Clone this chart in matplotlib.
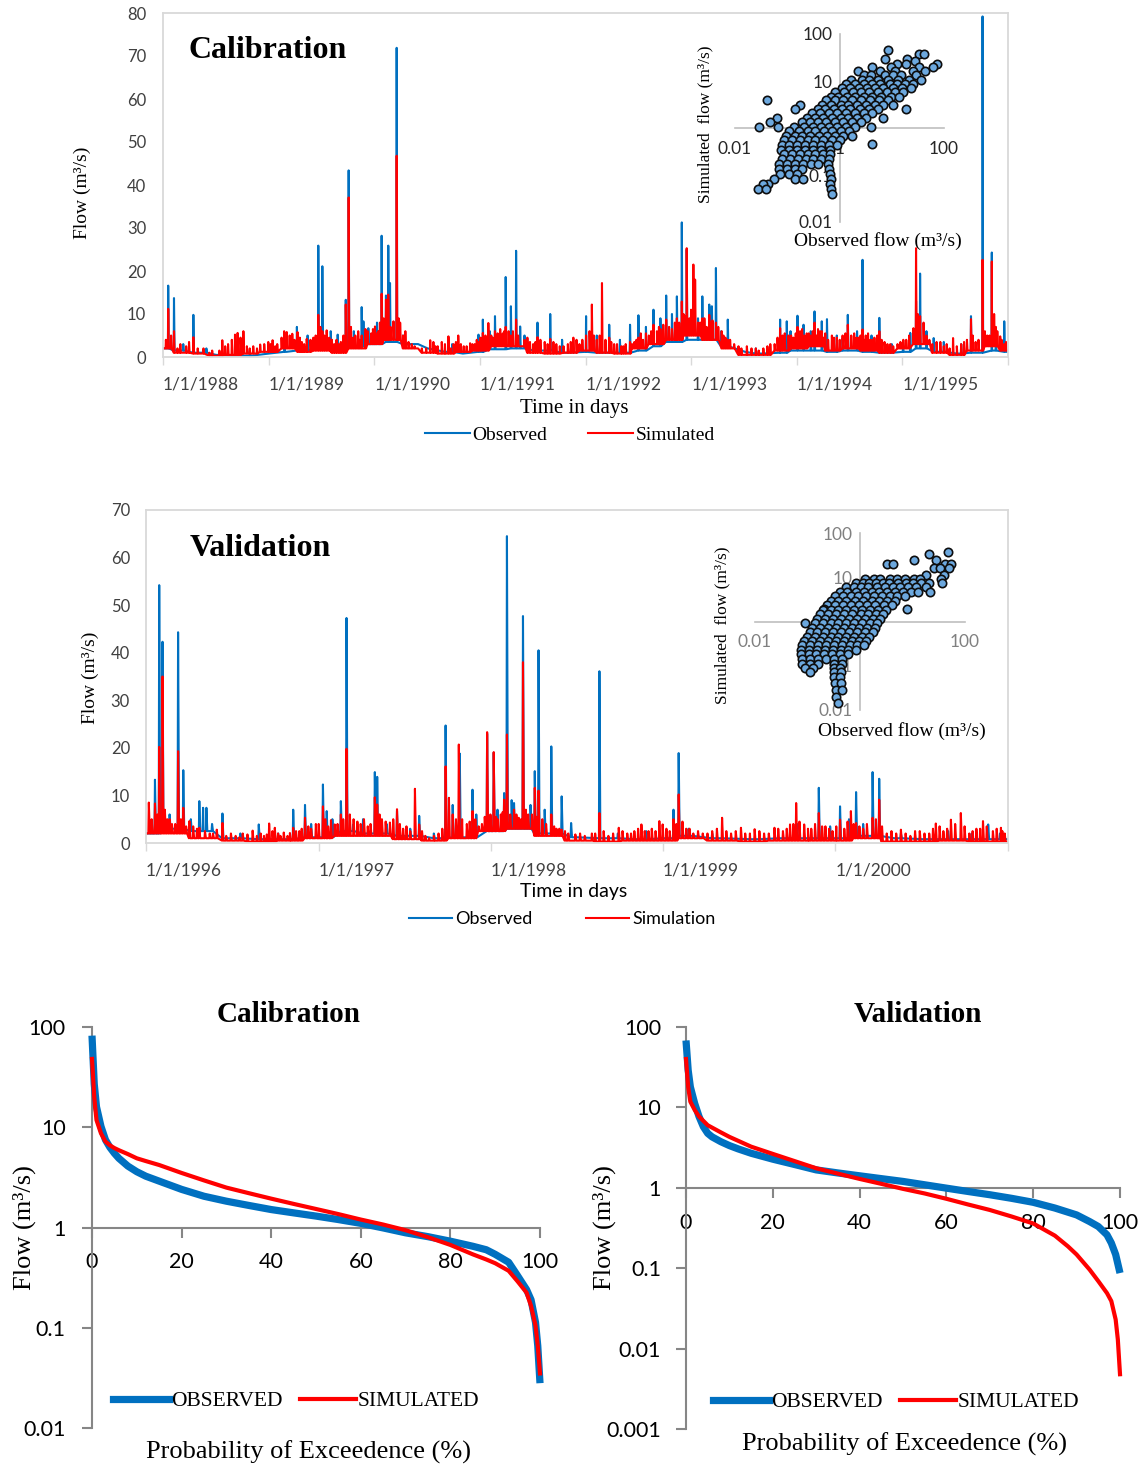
import numpy as np
import matplotlib
matplotlib.use("Agg")
import matplotlib.pyplot as plt
import matplotlib.dates as mdates
from matplotlib.lines import Line2D
from matplotlib.ticker import NullLocator

SANS = "Lato"
SERIF = "Liberation Serif"
BLUE = "#0070C0"
RED = "#FF0000"

# ======================= DATA =======================
# ---- Calibration daily flow (day offset from 1988-01-01) ----
cal_start, cal_end = "1988-01-01", "1996-01-01"
cal_years = [1988, 1989, 1990, 1991, 1992, 1993, 1994, 1995]
cal_yticks = [0, 10, 20, 30, 40, 50, 60, 70, 80]
cal_base_day = [0, 61, 122, 183, 244, 305, 366, 427, 488, 549, 610, 671, 732, 793, 854,
                915, 976, 1037, 1098, 1159, 1220, 1281, 1342, 1403, 1464, 1525, 1586, 1647,
                1708, 1769, 1830, 1891, 1952, 2013, 2074, 2135, 2196, 2257, 2318, 2379, 2440,
                2501, 2562, 2623, 2684, 2745, 2806, 2867, 2922]
cal_obs_base = [2.0, 1.5, 1.0, 0.5, 0.3, 0.3, 0.8, 1.2, 1.5, 2.5, 2.5, 2.5, 3.0, 3.5, 3.0,
                2.0, 1.2, 0.8, 1.2, 1.8, 2.0, 1.5, 1.5, 1.0, 1.2, 1.0, 1.0, 1.5, 2.5, 3.5,
                4.0, 4.0, 2.5, 1.2, 0.8, 1.0, 1.5, 1.5, 1.2, 1.5, 1.2, 1.0, 1.2, 2.0, 1.2,
                0.8, 1.0, 1.5, 1.2]
cal_sim_base = [2.0, 1.0, 0.8, 0.3, 0.5, 0.8, 1.2, 2.0, 1.2, 1.5, 1.0, 2.0, 3.0, 4.0, 2.0,
                1.0, 0.8, 1.2, 1.5, 2.5, 2.5, 1.0, 0.8, 1.0, 1.5, 1.0, 0.8, 2.0, 3.0, 4.0,
                5.0, 4.0, 2.0, 0.5, 0.5, 1.5, 2.0, 2.5, 1.5, 2.0, 1.5, 1.0, 2.0, 3.0, 1.0,
                0.5, 1.5, 2.5, 1.5]
cal_obs_peaks = [(18, 16.6), (38, 13.7), (105, 9.8), (463, 7.0), (537, 25.9), (551, 21.1),
                 (604, 5.2), (632, 13.3), (642, 43.4), (687, 11.6), (693, 8.3), (710, 6.7),
                 (756, 28.2), (771, 14.3), (779, 25.9), (785, 17.2), (808, 71.9), (1091, 5.2),
                 (1106, 8.7), (1148, 9.5), (1185, 18.6), (1203, 11.8), (1221, 24.7), (1235, 7.1),
                 (1295, 8.0), (1339, 10.0), (1463, 9.5), (1543, 7.5), (1615, 7.5), (1644, 9.7),
                 (1696, 11.0), (1740, 14.3), (1777, 14.1), (1794, 31.3), (1811, 25.0),
                 (1865, 14.1), (1889, 12.2), (1898, 11.8), (1912, 20.7), (1953, 8.7),
                 (2134, 8.7), (2157, 8.3), (2194, 9.6), (2215, 7.5), (2253, 10.6), (2278, 8.3),
                 (2296, 8.8), (2350, 4.4), (2368, 9.8), (2419, 22.6), (2477, 9.1), (2559, 3.3),
                 (2584, 5.6), (2604, 13.0), (2618, 19.4), (2665, 4.4), (2794, 9.5),
                 (2834, 79.2), (2866, 24.3), (2909, 8.3)]
cal_obs_minor = [(70, 3.0), (150, 2.0), (300, 1.5), (420, 4.0), (500, 5.0), (580, 6.0),
                 (660, 6.0), (740, 8.0), (830, 5.0), (880, 3.0), (1000, 3.0), (1130, 6.0),
                 (1250, 5.0), (1380, 4.0), (1500, 5.0), (1580, 4.0), (1670, 7.0), (1720, 9.0),
                 (1760, 10.0), (1850, 9.0), (1930, 6.0), (2050, 2.0), (2170, 6.0), (2240, 6.0),
                 (2330, 5.0), (2400, 6.0), (2450, 5.0), (2520, 3.0), (2640, 6.0), (2700, 3.5),
                 (2760, 3.0), (2880, 6.0)]
cal_sim_peaks = [(18, 11.2), (38, 6.0), (60, 3.0), (80, 2.5), (105, 4.6), (140, 2.0), (170, 1.5),
                 (205, 3.9), (225, 3.0), (249, 5.2), (258, 5.6), (278, 6.0), (290, 2.5),
                 (312, 2.5), (336, 2.9), (364, 3.5), (379, 3.9), (395, 3.0), (419, 6.0),
                 (428, 5.8), (447, 5.4), (465, 5.8), (480, 3.5), (497, 4.2), (520, 4.5),
                 (537, 9.8), (551, 6.0), (566, 6.2), (584, 4.0), (600, 4.0), (615, 3.5),
                 (632, 12.2), (642, 37.1), (658, 4.5), (687, 5.0), (700, 6.5), (720, 5.5),
                 (733, 7.1), (745, 6.0), (756, 14.7), (771, 13.3), (779, 14.5), (797, 8.3),
                 (808, 46.8), (820, 8.0), (830, 5.0), (849, 3.5), (870, 2.5), (895, 2.0),
                 (924, 3.9), (935, 3.5), (950, 2.5), (964, 3.5), (987, 4.8), (1005, 3.0),
                 (1021, 5.0), (1040, 2.5), (1062, 3.2), (1078, 3.0), (1091, 3.5), (1106, 5.6),
                 (1125, 7.9), (1135, 5.0), (1148, 6.0), (1166, 6.5), (1175, 5.5), (1185, 7.0),
                 (1195, 6.0), (1203, 5.0), (1221, 8.7), (1250, 4.0), (1269, 3.5), (1280, 3.0),
                 (1295, 4.6), (1320, 3.5), (1339, 4.2), (1360, 3.0), (1385, 2.5), (1400, 3.0),
                 (1419, 4.5), (1440, 3.0), (1463, 5.0), (1483, 12.2), (1500, 4.0), (1518, 17.2),
                 (1543, 4.5), (1560, 3.0), (1585, 2.5), (1600, 3.0), (1615, 3.5), (1630, 3.5),
                 (1644, 4.5), (1660, 4.0), (1680, 5.0), (1696, 7.5), (1708, 6.0), (1720, 6.5),
                 (1740, 8.7), (1750, 7.0), (1760, 6.5), (1777, 9.0), (1785, 8.0), (1794, 12.9),
                 (1800, 10.0), (1811, 25.3), (1820, 9.0), (1834, 21.5), (1840, 18.0),
                 (1850, 8.0), (1865, 9.0), (1880, 7.0), (1889, 9.8), (1900, 8.5), (1912, 8.0),
                 (1932, 6.0), (1945, 4.5), (1961, 4.0), (1990, 2.5), (2019, 2.5), (2050, 2.0),
                 (2076, 2.0), (2100, 3.0), (2134, 6.7), (2150, 5.5), (2163, 5.0), (2180, 4.5),
                 (2194, 7.0), (2210, 6.5), (2226, 5.5), (2240, 5.0), (2253, 8.0), (2265, 6.5),
                 (2278, 6.0), (2290, 5.5), (2313, 5.0), (2330, 4.5), (2350, 5.0), (2368, 7.5),
                 (2390, 5.5), (2405, 4.5), (2419, 6.4), (2430, 5.0), (2446, 4.0), (2460, 4.5),
                 (2477, 6.0), (2495, 3.5), (2515, 3.0), (2540, 3.0), (2570, 4.0), (2595, 6.7),
                 (2604, 25.3), (2618, 9.5), (2630, 8.0), (2650, 4.0), (2688, 3.5), (2710, 3.0),
                 (2732, 4.4), (2760, 3.0), (2780, 4.0), (2794, 8.8), (2810, 3.5), (2834, 22.6),
                 (2850, 5.0), (2866, 22.2), (2874, 10.0), (2885, 6.0), (2895, 4.8), (2909, 3.0)]
cal_sim_minor = [(10, 4.0), (28, 5.0), (50, 2.0), (90, 3.5), (120, 2.0), (160, 1.0), (195, 1.5),
                 (215, 2.5), (238, 4.0), (268, 4.5), (300, 2.0), (325, 2.0), (350, 3.0),
                 (372, 3.0), (388, 2.5), (410, 4.5), (438, 5.0), (455, 4.0), (473, 4.5),
                 (488, 3.0), (510, 4.0), (528, 5.0), (544, 7.0), (558, 5.0), (575, 4.5),
                 (592, 3.0), (608, 3.0), (624, 5.0), (650, 7.0), (665, 5.0), (675, 6.0),
                 (680, 4.0), (708, 6.0), (726, 6.5), (740, 5.5), (750, 8.0), (763, 9.0),
                 (787, 7.0), (815, 9.0), (838, 6.0), (860, 3.0), (880, 2.0), (910, 2.0),
                 (942, 2.5), (975, 3.0), (995, 2.0), (1013, 3.5), (1030, 3.0), (1050, 2.5),
                 (1070, 3.0), (1085, 4.0), (1098, 4.5), (1115, 5.0), (1140, 4.5), (1157, 5.5),
                 (1180, 6.0), (1210, 6.0), (1228, 5.0), (1260, 4.5), (1288, 3.5), (1305, 4.0),
                 (1330, 3.0), (1350, 3.5), (1372, 2.5), (1410, 3.5), (1430, 4.0), (1450, 4.0),
                 (1475, 6.0), (1490, 5.0), (1510, 5.0), (1530, 4.0), (1550, 3.5), (1570, 3.0),
                 (1592, 2.5), (1622, 3.0), (1637, 4.0), (1652, 5.5), (1670, 5.5), (1688, 6.0),
                 (1715, 7.0), (1730, 7.5), (1770, 8.0), (1805, 9.5), (1826, 11.0), (1858, 8.0),
                 (1872, 9.0), (1895, 8.0), (1920, 7.0), (1938, 5.0), (1953, 4.0), (1975, 3.0),
                 (2000, 2.0), (2035, 2.0), (2060, 1.5), (2090, 2.5), (2115, 3.0), (2125, 4.5),
                 (2142, 5.0), (2172, 5.0), (2188, 5.5), (2203, 6.0), (2218, 5.0), (2233, 5.5),
                 (2247, 6.0), (2260, 5.0), (2272, 6.0), (2285, 4.5), (2300, 4.0), (2320, 4.5),
                 (2340, 4.0), (2360, 5.5), (2380, 5.0), (2398, 4.5), (2412, 5.0), (2425, 4.0),
                 (2438, 5.5), (2453, 4.0), (2470, 5.0), (2485, 4.0), (2505, 3.0), (2525, 2.5),
                 (2550, 3.5), (2560, 4.0), (2580, 5.0), (2610, 10.0), (2640, 5.0), (2660, 3.0),
                 (2675, 3.5), (2700, 2.5), (2720, 2.0), (2745, 2.5), (2770, 3.5), (2800, 5.0),
                 (2820, 4.0), (2842, 6.0), (2858, 5.0), (2880, 7.0), (2900, 4.0), (2915, 3.5)]

# ---- Validation daily flow (day offset from 1996-01-01) ----
val_start, val_end = "1996-01-01", "2001-01-01"
val_years = [1996, 1997, 1998, 1999, 2000]
val_yticks = [0, 10, 20, 30, 40, 50, 60, 70]
val_base_day = [0, 61, 122, 183, 244, 305, 366, 427, 488, 549, 610, 671, 732, 793, 854, 915,
                976, 1037, 1098, 1159, 1220, 1281, 1342, 1403, 1464, 1525, 1586, 1647, 1708,
                1769, 1827]
val_obs_base = [2.0, 3.0, 2.5, 1.0, 0.8, 0.8, 1.2, 2.5, 2.0, 1.5, 1.0, 1.2, 2.5, 3.0, 2.0,
                1.2, 1.0, 0.8, 1.0, 1.5, 1.0, 0.8, 1.0, 1.0, 1.0, 1.5, 1.0, 0.8, 0.8, 0.8, 0.8]
val_sim_base = [2.0, 2.0, 1.0, 0.5, 0.3, 0.5, 1.0, 1.5, 1.5, 0.8, 0.5, 1.0, 2.5, 3.0, 1.5,
                0.5, 0.3, 0.5, 0.5, 1.0, 0.5, 0.3, 0.5, 0.5, 0.5, 1.0, 0.3, 0.3, 0.5, 0.3, 0.3]
val_obs_peaks = [(19, 13.3), (28, 54.2), (35, 42.3), (68, 44.3), (79, 15.3), (113, 8.8),
                 (121, 7.4), (128, 7.4), (162, 6.2), (239, 3.9), (312, 7.0), (337, 8.0),
                 (375, 12.3), (383, 6.7), (413, 8.8), (425, 47.3), (439, 3.9), (485, 14.9),
                 (490, 13.9), (532, 6.7), (579, 5.7), (635, 24.7), (665, 18.8), (692, 11.2),
                 (723, 23.0), (737, 19.0), (759, 10.5), (765, 64.5), (780, 8.4), (799, 47.7),
                 (824, 15.1), (832, 40.5), (859, 20.3), (881, 9.8), (901, 4.2), (961, 36.1),
                 (1118, 7.0), (1129, 18.9), (1426, 11.6), (1471, 7.7), (1505, 10.7),
                 (1540, 14.9), (1554, 13.5), (1785, 3.9)]
val_obs_minor = [(50, 6.0), (95, 5.0), (140, 4.0), (200, 2.0), (280, 2.0), (350, 4.0),
                 (395, 5.0), (460, 5.0), (510, 4.0), (560, 3.0), (610, 2.0), (650, 8.0),
                 (700, 6.0), (745, 7.0), (775, 9.0), (815, 8.0), (845, 7.0), (1000, 2.0),
                 (1060, 2.5), (1150, 3.0), (1200, 2.0), (1300, 2.0), (1380, 4.0), (1450, 3.5),
                 (1490, 5.0), (1520, 4.0), (1600, 2.0), (1700, 2.5), (1750, 2.0), (1810, 2.0)]
val_sim_peaks = [(6, 8.5), (19, 8.3), (28, 20.2), (35, 35.0), (45, 5.0), (55, 4.0), (68, 19.3),
                 (79, 7.4), (92, 4.6), (100, 3.5), (113, 3.2), (135, 2.0), (150, 2.8),
                 (162, 4.2), (190, 1.5), (205, 2.0), (215, 1.8), (226, 2.6), (250, 1.5),
                 (261, 4.1), (273, 3.2), (285, 1.5), (305, 2.1), (312, 3.2), (325, 2.5),
                 (337, 5.3), (350, 3.0), (360, 4.0), (375, 7.7), (392, 4.8), (400, 3.9),
                 (413, 6.0), (425, 19.8), (440, 5.0), (455, 4.0), (470, 3.5), (485, 9.6),
                 (490, 8.1), (500, 5.0), (517, 4.3), (532, 7.1), (545, 3.0), (560, 2.5),
                 (570, 11.4), (579, 3.9), (600, 1.0), (620, 2.0), (635, 16.1), (642, 9.5),
                 (650, 6.0), (663, 20.7), (680, 4.0), (692, 6.7), (705, 3.5), (723, 23.3),
                 (737, 19.1), (745, 5.0), (752, 6.0), (759, 9.1), (765, 22.8), (772, 6.0),
                 (780, 7.0), (790, 5.3), (799, 38.0), (810, 6.0), (824, 11.6), (832, 11.0),
                 (840, 5.0), (859, 6.0), (870, 3.0), (881, 2.8), (895, 2.0), (930, 1.5),
                 (945, 2.0), (961, 6.3), (980, 1.5), (1002, 3.2), (1020, 2.0), (1035, 2.5),
                 (1050, 3.9), (1065, 2.5), (1088, 4.6), (1095, 3.9), (1110, 2.5), (1118, 5.0),
                 (1129, 10.2), (1145, 3.0), (1160, 2.0), (1190, 2.0), (1221, 5.3), (1240, 2.0),
                 (1261, 3.2), (1290, 2.9), (1310, 2.0), (1332, 3.2), (1350, 2.5), (1365, 3.9),
                 (1378, 8.4), (1395, 3.9), (1410, 3.0), (1426, 6.3), (1440, 3.5), (1455, 2.5),
                 (1471, 4.9), (1480, 3.0), (1494, 6.7), (1505, 4.2), (1520, 3.0), (1540, 5.3),
                 (1554, 9.1), (1570, 2.0), (1600, 2.8), (1620, 1.5), (1640, 2.5), (1660, 2.0),
                 (1674, 4.1), (1690, 2.5), (1706, 4.9), (1727, 6.3), (1745, 2.0), (1760, 3.0),
                 (1774, 4.6), (1795, 2.5), (1812, 3.2), (1820, 2.0)]
val_sim_minor = [(12, 5.0), (24, 6.0), (40, 7.0), (50, 5.0), (62, 4.0), (74, 5.0), (85, 3.5),
                 (108, 3.0), (125, 2.5), (142, 2.0), (170, 1.5), (180, 2.0), (198, 1.2),
                 (235, 1.5), (243, 2.0), (256, 1.8), (268, 2.5), (280, 2.0), (292, 2.2),
                 (300, 1.5), (318, 2.5), (330, 3.0), (344, 3.5), (366, 4.0), (380, 5.0),
                 (386, 3.5), (406, 4.0), (418, 5.0), (432, 6.0), (448, 4.5), (462, 5.0),
                 (476, 4.0), (495, 6.0), (508, 4.5), (524, 5.0), (538, 4.0), (552, 3.5),
                 (585, 2.5), (592, 1.5), (610, 1.5), (628, 3.0), (657, 5.0), (670, 5.0),
                 (686, 4.5), (698, 5.0), (712, 4.0), (718, 5.5), (730, 6.0), (742, 5.5),
                 (756, 6.5), (785, 6.0), (795, 5.0), (805, 7.0), (818, 6.0), (828, 5.5),
                 (848, 4.0), (865, 3.5), (876, 3.0), (888, 2.5), (910, 1.8), (920, 2.0),
                 (952, 2.0), (970, 2.5), (990, 2.0), (1010, 2.5), (1028, 2.0), (1043, 3.0),
                 (1057, 2.5), (1072, 3.0), (1080, 2.5), (1103, 3.0), (1124, 4.0), (1137, 4.5),
                 (1152, 3.0), (1170, 2.5), (1180, 2.0), (1200, 2.5), (1210, 3.0), (1230, 2.5),
                 (1250, 2.5), (1270, 2.0), (1280, 2.0), (1300, 2.5), (1320, 2.0), (1340, 3.0),
                 (1358, 3.0), (1372, 4.0), (1385, 4.5), (1403, 3.0), (1418, 4.0), (1433, 3.5),
                 (1448, 3.0), (1463, 3.5), (1487, 4.5), (1500, 4.0), (1512, 3.5), (1528, 4.0),
                 (1547, 5.0), (1560, 3.5), (1580, 2.5), (1590, 2.0), (1610, 2.0), (1630, 2.5),
                 (1650, 2.0), (1668, 3.0), (1682, 3.5), (1698, 3.0), (1715, 4.0), (1735, 3.5),
                 (1752, 2.5), (1768, 3.0), (1782, 3.5), (1803, 3.0), (1815, 2.5)]

# ---- Scatter insets: rows of (log10 simulated, [log10 observed ...]) ----
cal_scatter_rows = [
    (1.67, [0.93]), (1.58, [1.53, 1.61]), (1.47, [0.87, 1.30]), (1.42, [1.44]),
    (1.36, [1.10, 1.27, 1.87]), (1.29, [0.63, 0.99, 1.52, 1.79]),
    (1.21, [0.36, 0.77, 1.06, 1.40, 1.63]), (1.12, [0.46, 0.60, 0.88, 1.02, 1.18, 1.47]),
    (1.03, [0.22, 0.43, 0.57, 0.73, 0.92, 1.12, 1.33, 1.56]),
    (0.94, [0.12, 0.30, 0.47, 0.63, 0.77, 0.97, 1.10, 1.26, 1.41]),
    (0.85, [0.05, 0.20, 0.38, 0.52, 0.67, 0.84, 1.03, 1.20, 1.36]),
    (0.76, [-0.08, 0.08, 0.25, 0.41, 0.57, 0.73, 0.90, 1.07, 1.22]),
    (0.67, [-0.17, -0.02, 0.14, 0.30, 0.47, 0.62, 0.80, 0.98, 1.14]),
    (0.59, [-1.39, -0.26, -0.09, 0.07, 0.24, 0.42, 0.58, 0.75, 0.92]),
    (0.50, [-0.76, -0.33, -0.16, 0.02, 0.17, 0.34, 0.50, 0.68, 0.84, 1.02]),
    (0.41, [-0.86, -0.42, -0.27, -0.11, 0.04, 0.21, 0.39, 0.56, 0.73, 1.28]),
    (0.32, [-0.52, -0.37, -0.21, -0.05, 0.12, 0.29, 0.46, 0.63]),
    (0.22, [-1.19, -0.63, -0.47, -0.31, -0.14, 0.02, 0.17, 0.33, 0.51, 0.84]),
    (0.13, [-1.33, -0.72, -0.56, -0.41, -0.26, -0.09, 0.06, 0.23, 0.41]),
    (0.03, [-1.55, -1.18, -0.88, -0.67, -0.51, -0.36, -0.21, -0.04, 0.12, 0.29, 0.60]),
    (-0.06, [-0.97, -0.77, -0.61, -0.46, -0.30, -0.14, 0.02, 0.19]),
    (-0.16, [-1.02, -0.86, -0.71, -0.56, -0.40, -0.24, -0.09, 0.06, 0.23]),
    (-0.26, [-1.07, -0.91, -0.76, -0.61, -0.46, -0.31, -0.15, 0.01]),
    (-0.33, [0.62]),
    (-0.36, [-1.11, -0.96, -0.81, -0.66, -0.50, -0.35, -0.20, -0.05]),
    (-0.46, [-1.12, -0.97, -0.82, -0.66, -0.51, -0.36, -0.19]),
    (-0.56, [-1.06, -0.91, -0.76, -0.61, -0.46, -0.31, -0.18]),
    (-0.66, [-1.11, -0.95, -0.80, -0.65, -0.50, -0.36, -0.20]),
    (-0.76, [-1.15, -1.00, -0.85, -0.70, -0.55, -0.41, -0.22]),
    (-0.87, [-1.16, -1.01, -0.86, -0.71, -0.20]),
    (-0.98, [-1.14, -0.96, -0.81, -0.18]), (-1.09, [-1.25, -0.86, -0.69, -0.17]),
    (-1.19, [-1.37, -1.46, -0.18]), (-1.29, [-1.56, -1.41, -0.16]), (-1.40, [-0.15]),
]
val_scatter_rows = [
    (1.56, [1.68]), (1.52, [1.32]), (1.38, [1.02, 1.45]), (1.30, [0.52, 0.62, 1.62, 1.74]),
    (1.20, [1.40, 1.52, 1.70]), (1.05, [1.25, 1.60]),
    (0.96, [0.10, 0.26, 0.38, 0.57, 0.71, 0.86, 1.03, 1.14, 1.55]),
    (0.87, [-0.08, 0.05, 0.17, 0.30, 0.43, 0.56, 0.72, 0.88, 1.01, 1.17, 1.31, 1.57]),
    (0.77, [-0.27, -0.12, 0.02, 0.16, 0.32, 0.47, 0.62, 0.76, 0.92, 1.07, 1.25]),
    (0.67, [-0.39, -0.24, -0.08, 0.07, 0.22, 0.37, 0.52, 0.66, 0.82, 0.97, 1.11, 1.33]),
    (0.57, [-0.48, -0.33, -0.18, -0.03, 0.12, 0.27, 0.42, 0.57, 0.71, 0.86]),
    (0.47, [-0.56, -0.41, -0.26, -0.09, 0.06, 0.22, 0.36, 0.51, 0.66]),
    (0.37, [-0.63, -0.48, -0.33, -0.17, -0.02, 0.14, 0.29, 0.46, 0.60]),
    (0.28, [-0.69, 0.89]),
    (0.26, [-0.71, -0.56, -0.41, -0.26, -0.11, 0.04, 0.19, 0.34, 0.50]),
    (0.16, [-0.76, -0.61, -0.46, -0.31, -0.15, 0.01, 0.16, 0.31, 0.44]),
    (0.06, [-0.81, -0.66, -0.51, -0.36, -0.21, -0.06, 0.09, 0.24, 0.39]),
    (-0.04, [-1.05, -0.86, -0.71, -0.56, -0.41, -0.26, -0.11, 0.04, 0.19, 0.33]),
    (-0.14, [-0.91, -0.76, -0.61, -0.46, -0.31, -0.16, -0.01, 0.14, 0.29]),
    (-0.24, [-0.96, -0.81, -0.66, -0.51, -0.36, -0.21, -0.06, 0.09, 0.24]),
    (-0.34, [-1.01, -0.86, -0.71, -0.56, -0.41, -0.26, -0.11, 0.04, 0.17]),
    (-0.44, [-1.06, -0.91, -0.76, -0.61, -0.46, -0.31, -0.16, -0.01, 0.11]),
    (-0.54, [-1.10, -0.95, -0.80, -0.65, -0.50, -0.35, -0.20, -0.05, 0.07]),
    (-0.64, [-1.12, -0.97, -0.82, -0.67, -0.52, -0.37, -0.22, -0.08]),
    (-0.74, [-1.13, -0.98, -0.83, -0.68, -0.53, -0.38, -0.23]),
    (-0.84, [-1.10, -0.95, -0.80, -0.65, -0.50, -0.35]),
    (-0.95, [-1.10, -0.95, -0.80, -0.50, -0.35]),
    (-1.05, [-1.05, -0.90, -0.50, -0.38]), (-1.15, [-0.95, -0.50, -0.36]),
    (-1.25, [-0.50, -0.38]), (-1.40, [-0.48, -0.36]), (-1.55, [-0.45, -0.35]),
    (-1.70, [-0.45]), (-1.85, [-0.42]),
]
scatter_xticks = [0.01, 1, 100]
scatter_xticklabels = ["0.01", "1", "100"]
scatter_yticks = [0.01, 0.1, 1, 10, 100]
scatter_yticklabels = ["0.01", "0.1", "1", "10", "100"]

# ---- Flow duration curves ----
fdc_xticks = [0, 20, 40, 60, 80, 100]
cal_fdc_pct = [0, 0.5, 1, 2, 3, 4, 5, 6, 8, 10, 12, 15, 20, 25, 30, 35, 40, 45, 50, 55,
               60, 65, 70, 75, 80, 85, 88, 90, 93, 95, 97, 98, 99, 99.5, 100]
cal_fdc_obs = [82, 27, 16, 10.2, 7.5, 6.3, 5.5, 4.9, 4.1, 3.6, 3.25, 2.9, 2.4, 2.05, 1.83,
               1.66, 1.51, 1.40, 1.30, 1.20, 1.10, 0.99, 0.885, 0.81, 0.73, 0.65, 0.60,
               0.54, 0.45, 0.33, 0.24, 0.19, 0.113, 0.066, 0.028]
cal_fdc_sim = [48, 20, 11.8, 8.7, 7.2, 6.6, 6.2, 5.9, 5.4, 4.9, 4.6, 4.2, 3.5, 2.95, 2.5,
               2.2, 1.94, 1.72, 1.53, 1.36, 1.2, 1.07, 0.94, 0.8, 0.67, 0.54, 0.48, 0.44,
               0.37, 0.29, 0.224, 0.165, 0.105, 0.066, 0.035]
cal_fdc_yticks = [0.01, 0.1, 1, 10, 100]
cal_fdc_ylabels = ["0.01", "0.1", "1", "10", "100"]
val_fdc_pct_obs = [0, 0.5, 1, 2, 3, 4, 5, 6, 8, 10, 12, 15, 20, 25, 30, 35, 40, 45, 50, 55,
                   60, 65, 70, 75, 80, 85, 90, 93, 95, 97, 98, 99, 100]
val_fdc_obs = [68, 29, 18, 11.2, 7.7, 5.75, 4.76, 4.3, 3.75, 3.35, 3.05, 2.69, 2.27, 1.95,
               1.67, 1.53, 1.41, 1.3, 1.2, 1.09, 0.99, 0.9, 0.82, 0.74, 0.66, 0.56, 0.46,
               0.38, 0.33, 0.26, 0.206, 0.148, 0.087]
val_fdc_pct_sim = [0, 0.5, 1, 2, 3, 5, 8, 10, 15, 20, 25, 30, 35, 40, 45, 50, 55, 60, 65, 70,
                   75, 80, 85, 88, 90, 93, 95, 97, 98, 99, 99.5, 100]
val_fdc_sim = [40, 18, 11.8, 9.3, 7.7, 6.0, 4.9, 4.3, 3.25, 2.64, 2.15, 1.75, 1.5, 1.29,
               1.12, 0.97, 0.85, 0.73, 0.62, 0.53, 0.44, 0.36, 0.254, 0.187, 0.148, 0.096,
               0.069, 0.049, 0.039, 0.023, 0.013, 0.0048]
val_fdc_yticks = [0.001, 0.01, 0.1, 1, 10, 100]
val_fdc_ylabels = ["0.001", "0.01", "0.1", "1", "10", "100"]

# ======================= FIGURE =======================
W, H = 1146, 1468
fig = plt.figure(figsize=(W / 100, H / 100), dpi=100)


def rect(x0, y0, x1, y1):
    return [x0 / W, 1 - y1 / H, (x1 - x0) / W, (y1 - y0) / H]


def ftxt(x, y, s, **kw):
    kw.setdefault("ha", "center")
    kw.setdefault("va", "center")
    return fig.text(x / W, 1 - y / H, s, **kw)


def build_series(start, base_d, base_v, peaks):
    base_d = np.asarray(base_d)
    base_v = np.asarray(base_v, float)
    d = list(base_d)
    v = list(base_v)
    for pd_, pv in peaks:
        b = base_v[np.argmin(np.abs(base_d - pd_))]
        d += [pd_ - 1, pd_, pd_ + 2]
        v += [b, pv, b]
    d = np.array(d, dtype=int)
    v = np.array(v, float)
    order = np.argsort(d, kind="stable")
    return np.datetime64(start) + d[order].astype("timedelta64[D]"), v[order]


def ts_panel(box, start, end, years, base_d, obs_base, sim_base, obs_peaks, sim_peaks,
             yticks, ypad):
    ax = fig.add_axes(rect(*box))
    t, v = build_series(start, base_d, obs_base, obs_peaks)
    ax.plot(t, v, color=BLUE, lw=1.5)
    t, v = build_series(start, base_d, sim_base, sim_peaks)
    ax.plot(t, v, color=RED, lw=1.5)
    ax.set_xlim(np.datetime64(start), np.datetime64(end))
    ax.set_ylim(yticks[0], yticks[-1])
    ticks = [np.datetime64(f"{y}-01-01") for y in years] + [np.datetime64(end)]
    ax.set_xticks(mdates.date2num(np.array(ticks)))
    ax.set_xticklabels([f"1/1/{y}" for y in years] + [""], fontfamily=SANS,
                       fontsize=12.5, color="#404040", ha="left")
    ax.set_yticks(yticks)
    ax.set_yticklabels([str(y) for y in yticks], fontfamily=SANS, fontsize=12,
                       color="#404040")
    ax.tick_params(axis="x", direction="out", length=6, width=1, color="#D9D9D9", pad=8)
    ax.tick_params(axis="y", length=0, pad=ypad)
    for s in ax.spines.values():
        s.set_color("#D9D9D9")
        s.set_linewidth(1.3)
    return ax


def inset(box, rows, tick_color):
    ax = fig.add_axes(rect(*box))
    ax.set_xscale("log")
    ax.set_yscale("log")
    ax.set_xlim(0.01, 100)
    ax.set_ylim(0.01, 100)
    ax.patch.set_alpha(0)
    for s in ("top", "right"):
        ax.spines[s].set_visible(False)
    ax.spines["left"].set_position(("data", 1))
    ax.spines["bottom"].set_position(("data", 1))
    for s in ("left", "bottom"):
        ax.spines[s].set_color("#BFBFBF")
        ax.spines[s].set_linewidth(1.2)
        ax.spines[s].set_zorder(0.3)
    ax.set_axisbelow(True)
    ax.set_xticks(scatter_xticks)
    ax.set_yticks(scatter_yticks)
    ax.set_xticklabels(scatter_xticklabels, fontfamily=SANS, fontsize=12.5, color=tick_color)
    ax.set_yticklabels(scatter_yticklabels, fontfamily=SANS, fontsize=12.5, color=tick_color)
    ax.xaxis.set_minor_locator(NullLocator())
    ax.yaxis.set_minor_locator(NullLocator())
    ax.tick_params(axis="x", length=0, pad=9)
    ax.tick_params(axis="y", length=0, pad=5)
    ly, lx = [], []
    for yv, xs in rows:
        for xv in xs:
            ly.append(yv)
            lx.append(xv)
    ax.scatter(10 ** np.array(lx), 10 ** np.array(ly), s=36, facecolor="#6CA8DE",
               edgecolor="#0d0d0d", linewidths=1.2, zorder=2)
    return ax


def fdc_panel(box, pct_o, obs, pct_s, sim, yticks, ylabels, ypad):
    ax = fig.add_axes(rect(*box))
    ax.set_yscale("log")
    ax.plot(pct_o, obs, color=BLUE, lw=5.2, zorder=3, clip_on=False,
            solid_capstyle="butt", solid_joinstyle="round")
    ax.plot(pct_s, sim, color=RED, lw=3.0, zorder=4, clip_on=False,
            solid_joinstyle="round")
    ax.set_xlim(0, 100)
    ax.set_ylim(yticks[0], yticks[-1])
    for s in ("top", "right"):
        ax.spines[s].set_visible(False)
    ax.spines["bottom"].set_position(("data", 1))
    for s in ("left", "bottom"):
        ax.spines[s].set_color("#868686")
        ax.spines[s].set_linewidth(1.5)
    ax.set_xticks(fdc_xticks)
    ax.set_xticklabels([str(x) for x in fdc_xticks], fontfamily=SANS, fontsize=15.5)
    ax.set_yticks(yticks)
    ax.set_yticklabels(ylabels, fontfamily=SANS, fontsize=15.5)
    ax.yaxis.set_minor_locator(NullLocator())
    ax.tick_params(direction="out", length=7, width=1.5, color="#868686")
    ax.tick_params(axis="x", pad=11)
    ax.tick_params(axis="y", pad=ypad)
    return ax


# ---------- Calibration time series ----------
ts_panel((163, 13, 1008, 357), cal_start, cal_end, cal_years, cal_base_day, cal_obs_base,
         cal_sim_base, cal_obs_peaks + cal_obs_minor, cal_sim_peaks + cal_sim_minor,
         cal_yticks, 12)
ftxt(188, 50, "Calibration", ha="left", fontfamily=SERIF, fontweight="bold", fontsize=23)
ftxt(82, 193, "Flow (m³/s)", rotation=90, fontfamily=SERIF, fontsize=14)
ftxt(574, 409, "Time in days", fontfamily=SERIF, fontsize=15)
fig.legend([Line2D([], [], color=BLUE, lw=1.5), Line2D([], [], color=RED, lw=1.5)],
           ["Observed", "Simulated"], loc="center", bbox_to_anchor=(570 / W, 1 - 435 / H),
           ncol=2, frameon=False, prop={"family": SERIF, "size": 14}, handlelength=2.3,
           handletextpad=0.15, columnspacing=2.1)
inset((735, 34, 944, 222), cal_scatter_rows, "#262626")
ftxt(878, 241, "Observed flow (m³/s)", fontfamily=SERIF, fontsize=14)
ftxt(705, 124, "Simulated  flow (m³/s)", rotation=90, fontfamily=SERIF, fontsize=12.5)

# ---------- Validation time series ----------
ts_panel((146, 510, 1008, 843), val_start, val_end, val_years, val_base_day, val_obs_base,
         val_sim_base, val_obs_peaks + val_obs_minor, val_sim_peaks + val_sim_minor,
         val_yticks, 11.5)
ftxt(190, 548, "Validation", ha="left", fontfamily=SERIF, fontweight="bold", fontsize=23)
ftxt(90, 678, "Flow (m³/s)", rotation=90, fontfamily=SERIF, fontsize=14)
ftxt(574, 892, "Time in days", fontfamily=SANS, fontsize=14)
fig.legend([Line2D([], [], color=BLUE, lw=1.5), Line2D([], [], color=RED, lw=1.5)],
           ["Observed", "Simulation"], loc="center", bbox_to_anchor=(562 / W, 1 - 919 / H),
           ncol=2, frameon=False, prop={"family": SANS, "size": 13}, handlelength=2.4,
           handletextpad=0.15, columnspacing=3.0)
inset((755, 533, 965, 710), val_scatter_rows, "#808080")
ftxt(902, 731, "Observed flow (m³/s)", fontfamily=SERIF, fontsize=14)
ftxt(722, 625, "Simulated  flow (m³/s)", rotation=90, fontfamily=SERIF, fontsize=12.5)

# ---------- Flow duration curves ----------
fdc_panel((92, 1027, 540, 1428), cal_fdc_pct, cal_fdc_obs, cal_fdc_pct, cal_fdc_sim,
          cal_fdc_yticks, cal_fdc_ylabels, 12)
ftxt(289, 1014, "Calibration", fontfamily=SERIF, fontweight="bold", fontsize=21)
ftxt(24, 1228, "Flow (m³/s)", rotation=90, fontfamily=SERIF, fontsize=19)
ftxt(308, 1452, "Probability of Exceedence (%)", fontfamily=SERIF, fontsize=19)
fig.legend([Line2D([], [], color=BLUE, lw=5.2), Line2D([], [], color=RED, lw=3)],
           ["OBSERVED", "SIMULATED"], loc="center", bbox_to_anchor=(296 / W, 1 - 1401 / H),
           ncol=2, frameon=False, prop={"family": SERIF, "size": 15.5}, handlelength=2.6,
           handletextpad=0.1, columnspacing=0.8)

fdc_panel((686, 1027, 1120, 1429), val_fdc_pct_obs, val_fdc_obs, val_fdc_pct_sim,
          val_fdc_sim, val_fdc_yticks, val_fdc_ylabels, 11)
ftxt(918, 1014, "Validation", fontfamily=SERIF, fontweight="bold", fontsize=21)
ftxt(604, 1228, "Flow (m³/s)", rotation=90, fontfamily=SERIF, fontsize=19)
ftxt(905, 1444, "Probability of Exceedence (%)", fontfamily=SERIF, fontsize=19)
fig.legend([Line2D([], [], color=BLUE, lw=5.2), Line2D([], [], color=RED, lw=3)],
           ["OBSERVED", "SIMULATED"], loc="center", bbox_to_anchor=(896 / W, 1 - 1402 / H),
           ncol=2, frameon=False, prop={"family": SERIF, "size": 15.5}, handlelength=2.6,
           handletextpad=0.1, columnspacing=0.8)

fig.savefig("out.png", dpi=100, facecolor="white")
